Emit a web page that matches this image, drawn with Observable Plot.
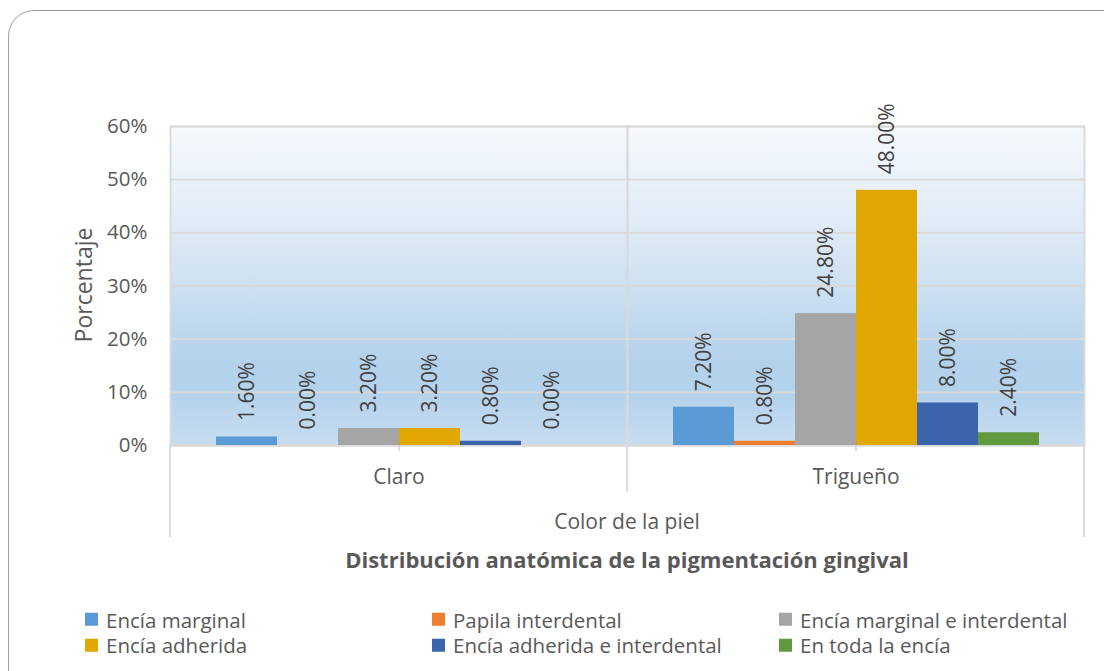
<!DOCTYPE html>
<html>
<head>
<meta charset="utf-8">
<script src="https://cdn.jsdelivr.net/npm/d3@7"></script>
<script src="https://cdn.jsdelivr.net/npm/@observablehq/plot@0.6"></script>
<style>
  html, body { margin: 0; padding: 0; background: #fff; }
  body { width: 1104px; height: 671px; overflow: hidden; position: relative; font-family: "Open Sans", sans-serif; color: #595959; }
  #border { position: absolute; left: 8px; top: 10px; width: 1130px; height: 700px; border: 1.5px solid #9e9e9e; border-radius: 26px; box-sizing: border-box; }
  #chart { position: absolute; left: 0; top: 0; }
  .center { position: absolute; transform: translate(-50%, -50%); white-space: nowrap; line-height: 1; }
  .legend-item { position: absolute; display: flex; align-items: center; white-space: nowrap; font-size: 20.5px; line-height: 1; transform: translateY(-50%); }
  .legend-item .sw { width: 13px; height: 13px; margin-right: 8px; flex: none; }
</style>
</head>
<body>
<div id="border"></div>
<div id="chart"></div>
<div class="center" id="ylabel" style="left:83px; top:285px; font-size:23px; transform: translate(-50%,-50%) rotate(-90deg);"></div>
<div class="center" id="xlabel" style="left:627px; top:521px; font-size:21px;"></div>
<div class="center" id="title" style="left:627px; top:559px; font-size:22px; font-weight:700;"></div>
<div id="legend"></div>
<script>
// ---- Data ----
const categories = ["Claro", "Trigueño"];
const series = [
  "Encía marginal",
  "Papila interdental",
  "Encía marginal e interdental",
  "Encía adherida",
  "Encía adherida e interdental",
  "En toda la encía"
];
const colors = ["#5b9bd5", "#ed7d31", "#a5a5a5", "#e0a800", "#3b64ad", "#619a3e"];
const claroValues = [0.016, 0.000, 0.032, 0.032, 0.008, 0.000];
const triguenoValues = [0.072, 0.008, 0.248, 0.480, 0.080, 0.024];
const yTicks = [0, 0.1, 0.2, 0.3, 0.4, 0.5, 0.6];
const yLabel = "Porcentaje";
const xLabel = "Color de la piel";
const chartTitle = "Distribución anatómica de la pigmentación gingival";

const valuesByCategory = [claroValues, triguenoValues];
const data = categories.flatMap((c, i) =>
  series.map((s, j) => ({cat: c, series: s, value: valuesByCategory[i][j]}))
);
const fmt = d3.format(".2%");

const chart = Plot.plot({
  width: 1104,
  height: 560,
  marginTop: 126,
  marginLeft: 169,
  marginRight: 20,
  marginBottom: 115,
  style: {fontFamily: "'Open Sans', sans-serif", fontSize: "20.5px", color: "#595959", background: "transparent", overflow: "visible"},
  fx: {domain: categories, padding: 0, label: null},
  x: {domain: series, paddingInner: 0, paddingOuter: 0.74, axis: null},
  y: {domain: [0, 0.6], label: null},
  color: {domain: series, range: colors},
  marks: [
    Plot.frame({fill: "url(#plotGrad)", stroke: "none"}),
    Plot.gridY(yTicks, {stroke: "#d9d9d9", strokeOpacity: 1, strokeWidth: 1.8}),
    Plot.frame({stroke: "#d9d9d9", strokeOpacity: 1, strokeWidth: 1.8}),
    Plot.barY(data, {fx: "cat", x: "series", y: "value", fill: "series", inset: 0}),
    Plot.text(data, {
      fx: "cat", x: "series", y: "value",
      text: d => fmt(d.value),
      rotate: -90, textAnchor: "start", dy: -16,
      fill: "#404040", fontSize: 21
    }),
    Plot.axisY(yTicks, {tickSize: 0, tickPadding: 23, tickFormat: d3.format(".0%"), fontSize: 20.5, label: null, fill: "#595959"}),
    Plot.axisFx({anchor: "bottom", tickSize: 6, tickPadding: 18, fontSize: 21, label: null, stroke: "#d0d0d0", strokeOpacity: 1, strokeWidth: 1.5, fill: "#595959"})
  ]
});

// gradient background for the plot area
const svg = d3.select(chart);
const defs = svg.insert("defs", ":first-child");
const grad = defs.append("linearGradient").attr("id", "plotGrad").attr("x1", 0).attr("y1", 0).attr("x2", 0).attr("y2", 1);
[[0, "#f6f9fd"], [0.35, "#dce9f5"], [0.75, "#b3d1eb"], [0.85, "#b6d3ec"], [1, "#c8ddf1"]].forEach(([o, c]) =>
  grad.append("stop").attr("offset", o).attr("stop-color", c));

// category separators extending below the axis (from the fx / y scales)
const fxScale = chart.scale("fx");
const yScale = chart.scale("y");
const y0 = yScale.apply(0);
const bw = fxScale.bandwidth;
const seps = categories.map(c => fxScale.apply(c));
seps.push(fxScale.apply(categories[categories.length - 1]) + bw);
seps.forEach((xp, i) => {
  const outer = i === 0 || i === seps.length - 1;
  svg.append("line")
    .attr("x1", xp).attr("x2", xp)
    .attr("y1", y0).attr("y2", y0 + (outer ? 92 : 47))
    .attr("stroke", "#d9d9d9").attr("stroke-width", 1.8);
});

document.getElementById("chart").appendChild(chart);
document.getElementById("ylabel").textContent = yLabel;
document.getElementById("xlabel").textContent = xLabel;
document.getElementById("title").textContent = chartTitle;

// legend
const legend = document.getElementById("legend");
series.forEach((s, i) => {
  const row = Math.floor(i / 3), col = i % 3;
  const item = document.createElement("div");
  item.className = "legend-item";
  item.style.left = (85 + col * 347) + "px";
  item.style.top = (619.5 + row * 25.5) + "px";
  const sw = document.createElement("span");
  sw.className = "sw";
  sw.style.background = colors[i];
  const tx = document.createElement("span");
  tx.textContent = s;
  item.appendChild(sw);
  item.appendChild(tx);
  legend.appendChild(item);
});
</script>
</body>
</html>
